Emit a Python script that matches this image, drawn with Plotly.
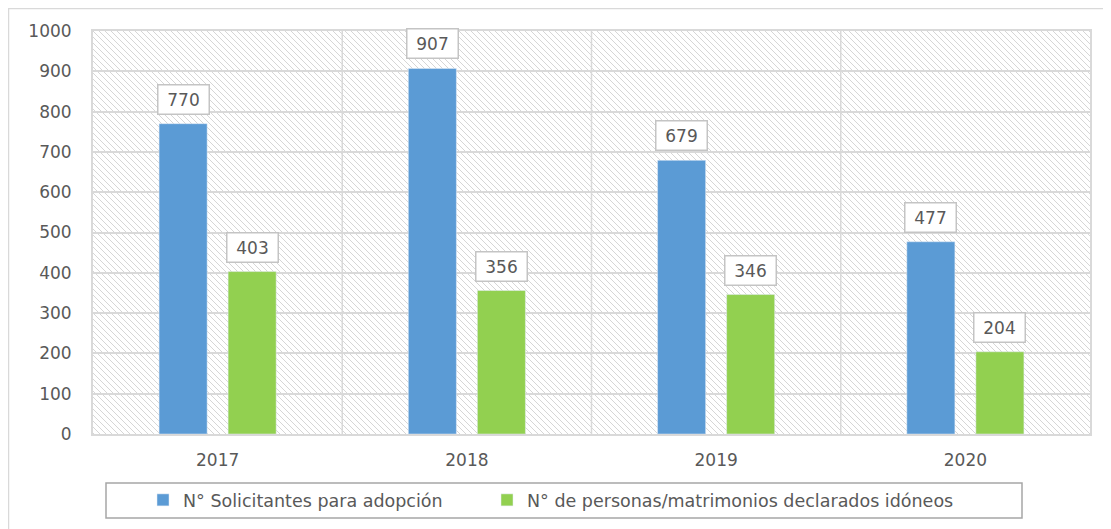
import base64
import plotly.graph_objects as go

years = ["2017", "2018", "2019", "2020"]
solicitantes = [770, 907, 679, 477]
idoneos = [403, 356, 346, 204]
series_names = ["N° Solicitantes para adopción", "N° de personas/matrimonios declarados idóneos"]
y_ticks = [0, 100, 200, 300, 400, 500, 600, 700, 800, 900, 1000]

BLUE = "#5B9BD5"
GREEN = "#92D050"
TXT = "#595959"
GRID = "#d9d9d9"
FONT = "'DejaVu Sans', sans-serif"

# page body has an 8px margin, so the figure is laid out 8px up/left
W, H = 1103, 521
ML, MR, MT, MB = 85, 21, 23, 95
PW, PH = W - ML - MR, H - MT - MB


def px_x(p):
    return (p - ML) / PW


def px_y(p):
    return (H - MB - p) / PH


svg = f'''<svg xmlns="http://www.w3.org/2000/svg" width="{PW}" height="{PH}" viewBox="0 0 {PW} {PH}" preserveAspectRatio="none">
<defs><pattern id="h" patternUnits="userSpaceOnUse" width="6" height="6">
<path d="M-1,-1 L7,7 M5,-1 L7,1 M-1,5 L1,7" stroke="#d6d6d6" stroke-width="1"/>
</pattern></defs>
<rect width="{PW}" height="{PH}" fill="white"/>
<rect width="{PW}" height="{PH}" fill="url(#h)"/>
</svg>'''
hatch = "data:image/svg+xml;base64," + base64.b64encode(svg.encode()).decode()

fig = go.Figure()
fig.add_trace(go.Bar(x=years, y=solicitantes, name=series_names[0], marker_color=BLUE, legend="legend"))
fig.add_trace(go.Bar(x=years, y=idoneos, name=series_names[1], marker_color=GREEN, legend="legend2"))

OFF = 34.5
for vals, sh in ((solicitantes, -OFF), (idoneos, OFF)):
    for i, v in enumerate(vals):
        fig.add_annotation(
            x=i, y=v, text=str(v), showarrow=False,
            xshift=sh, yshift=9, yanchor="bottom",
            font=dict(family=FONT, size=17, color=TXT),
            bgcolor="white", bordercolor="#c4c4c4", borderwidth=1.5,
            borderpad=2, width=46, height=24,
        )

fig.add_layout_image(
    source=hatch, xref="paper", yref="paper", x=0, y=1, sizex=1, sizey=1,
    sizing="stretch", xanchor="left", yanchor="top", layer="below",
)

# outer chart border
fig.add_shape(type="rect", xref="paper", yref="paper",
              x0=px_x(0), x1=px_x(W + 20), y0=px_y(H + 20), y1=px_y(0),
              line=dict(color=GRID, width=2.5), fillcolor="rgba(0,0,0,0)", layer="below")
# legend box
fig.add_shape(type="rect", xref="paper", yref="paper",
              x0=px_x(98), x1=px_x(1014), y0=px_y(510), y1=px_y(475),
              line=dict(color="#a6a6a6", width=1.5), fillcolor="rgba(0,0,0,0)")

leg_common = dict(orientation="h", yanchor="middle", y=px_y(492),
                  font=dict(family=FONT, size=17.5, color=TXT),
                  bgcolor="rgba(0,0,0,0)", itemclick=False, borderwidth=0)

fig.update_layout(
    width=W, height=H,
    margin=dict(l=ML, r=MR, t=MT, b=MB, autoexpand=False),
    paper_bgcolor="white", plot_bgcolor="rgba(0,0,0,0)",
    barmode="group", bargap=0.446, bargroupgap=0.304,
    font=dict(family=FONT, color=TXT),
    showlegend=True,
    legend=dict(x=px_x(135), xanchor="left", **leg_common),
    legend2=dict(x=px_x(479), xanchor="left", **leg_common),
)
fig.update_xaxes(
    type="category", categoryorder="array", categoryarray=years,
    showgrid=False, showline=True, linecolor=GRID, linewidth=2, mirror=True,
    ticks="outside", ticklen=10, tickcolor="rgba(0,0,0,0)", automargin=False,
    tickfont=dict(family=FONT, size=17, color=TXT),
)
fig.update_yaxes(
    range=[0, 1000], tickvals=y_ticks, showgrid=True, gridcolor=GRID, gridwidth=1.5,
    showline=True, linecolor=GRID, linewidth=2, mirror=True,
    ticks="outside", ticklen=16, tickcolor="rgba(0,0,0,0)", automargin=False,
    tickfont=dict(family=FONT, size=17, color=TXT),
    zeroline=False,
)
# category boundary lines
for i in range(1, len(years)):
    fig.add_vline(x=i - 0.5, line=dict(color=GRID, width=1.5), layer="below")

fig.write_html("out.html")
